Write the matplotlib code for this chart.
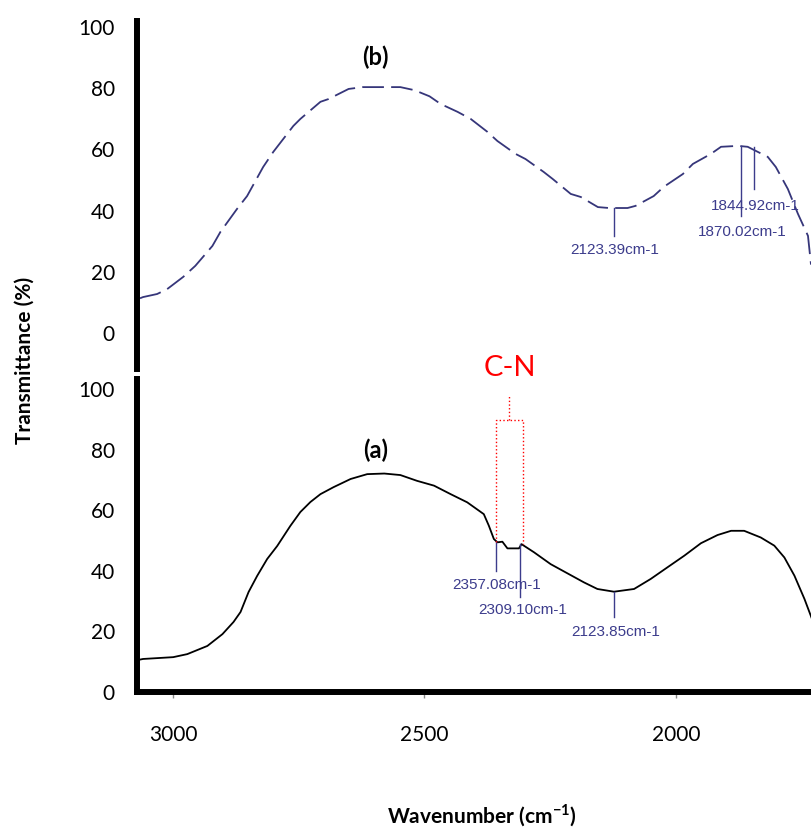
import numpy as np
import matplotlib.pyplot as plt

plt.rcParams['font.family'] = ['Lato', 'DejaVu Sans']
plt.rcParams['mathtext.fontset'] = 'custom'
plt.rcParams['mathtext.rm'] = 'Lato'
plt.rcParams['mathtext.bf'] = 'Lato:bold'

# spectrum (a): solid black
wn_a = [3066, 3060, 3000, 2972, 2932, 2902, 2880, 2866, 2850, 2833, 2813, 2793,
        2767, 2747, 2727, 2707, 2681, 2647, 2614, 2580, 2548, 2515, 2481, 2448,
        2415, 2382, 2372, 2362, 2355, 2345, 2335, 2312, 2307, 2282, 2249, 2216,
        2183, 2156, 2123, 2083, 2050, 2017, 1983, 1950, 1917, 1890, 1864, 1831,
        1804, 1784, 1764, 1744, 1729]
tr_a = [10.4, 10.6, 11.2, 12.2, 14.9, 18.8, 22.8, 26.1, 32.7, 38.0, 43.6, 47.9,
        54.5, 59.1, 62.4, 65.0, 67.3, 70.0, 71.6, 71.8, 71.3, 69.4, 67.8, 65.0,
        62.3, 58.4, 54.6, 50.2, 49.1, 49.3, 47.1, 47.1, 48.5, 45.8, 41.9, 38.9,
        35.9, 33.7, 32.8, 33.7, 37.0, 40.8, 44.7, 48.8, 51.5, 52.9, 52.9, 50.7,
        48.0, 44.1, 38.1, 30.4, 23.8]

# spectrum (b): dashed navy
wn_b = [3066, 3060, 3032, 3012, 2980, 2956, 2922, 2906, 2873, 2853, 2821, 2801,
        2761, 2747, 2707, 2691, 2651, 2623, 2548, 2520, 2490, 2468, 2434, 2408,
        2375, 2355, 2319, 2299, 2263, 2245, 2209, 2189, 2155, 2133, 2115, 2096,
        2080, 2044, 2024, 1986, 1966, 1930, 1910, 1876, 1857, 1817, 1801, 1777,
        1757, 1737, 1731]
tr_b = [11.0, 11.4, 12.4, 14.0, 18.0, 21.6, 28.1, 32.7, 40.2, 44.4, 53.9, 58.8,
        67.3, 69.6, 75.2, 76.1, 79.4, 80.0, 80.0, 79.0, 77.0, 74.5, 71.9, 69.6,
        65.4, 62.4, 58.2, 56.5, 52.3, 50.0, 45.1, 44.1, 40.8, 40.5, 40.5, 40.5,
        41.2, 44.4, 47.4, 51.6, 54.9, 58.2, 60.5, 60.8, 60.5, 57.2, 53.9, 46.7,
        38.6, 31.4, 22.0]

# peak labels: (wavenumber, line top, line bottom, label x, label y, text)
peaks_b = [(2123.39, 40.5, 31.4, 2122, 27.0, '2123.39cm-1'),
           (1870.02, 60.8, 37.9, 1868, 33.0, '1870.02cm-1'),
           (1844.92, 60.3, 46.7, 1841, 41.5, '1844.92cm-1')]
peaks_a = [(2357.08, 49.2, 39.6, 2357, 35.3, '2357.08cm-1'),
           (2309.10, 48.5, 31.0, 2305, 27.0, '2309.10cm-1'),
           (2123.85, 32.8, 24.4, 2120, 19.8, '2123.85cm-1')]

navy = '#36367a'
peak_col = '#3c3c8c'
peak_font = ['Liberation Sans', 'DejaVu Sans']

fig = plt.figure(figsize=(8.11, 8.28), dpi=100)
ax_b = fig.add_axes([137 / 811, 1 - 370 / 828, 1 - 137 / 811, (370 - 22) / 828])
ax_a = fig.add_axes([137 / 811, 1 - 693 / 828, 1 - 137 / 811, (693 - 380) / 828],
                    sharex=ax_b)

ax_b.plot(wn_b, tr_b, color=navy, lw=1.3, dashes=(12, 4))
ax_a.plot(wn_a, tr_a, color='black', lw=1.3)

for ax in (ax_a, ax_b):
    for s in ('top', 'right'):
        ax.spines[s].set_visible(False)
    ax.spines['left'].set_linewidth(4.3)
    ax.set_yticks([0, 20, 40, 60, 80, 100])
    ax.tick_params(axis='y', length=0, pad=16, labelsize=15)

ax_b.spines['bottom'].set_visible(False)
ax_b.tick_params(axis='x', length=0, labelbottom=False)
ax_a.spines['bottom'].set_linewidth(4.3)
ax_a.tick_params(axis='x', length=4, width=1, color='#888888', pad=19, labelsize=15)
ax_a.set_xticks([3000, 2500, 2000])
ax_a.set_xlim(3072, 1731)
ax_b.set_ylim(-12.1, 101.6)
ax_a.set_ylim(-0.3, 103)

for ax, peaks in ((ax_b, peaks_b), (ax_a, peaks_a)):
    for w, y0, y1, tx, ty, lab in peaks:
        ax.plot([w, w], [y0, y1], color=peak_col, lw=1)
        ax.text(tx, ty, lab, color=peak_col, fontsize=11, family=peak_font,
                ha='center', va='center')

ax_b.text(2598, 90.2, '(b)', fontsize=17, fontweight='bold', ha='center', va='center')
ax_a.text(2598, 79.9, '(a)', fontsize=17, fontweight='bold', ha='center', va='center')

# C-N box
ax_a.plot([2357, 2357, 2305, 2305], [49.2, 89.5, 89.5, 48.5], color='red', lw=1,
          ls=':', clip_on=False)
ax_a.plot([2331, 2331], [89.5, 97.5], color='red', lw=1, ls=':', clip_on=False)
ax_a.text(2331, 107, 'C-N', color='red', fontsize=21, ha='center', va='center',
          clip_on=False)

fig.text(0.031, 0.565, 'Transmittance (%)', rotation=90, fontsize=15,
         fontweight='bold', ha='center', va='center')
fig.text(0.594, 0.015, r'Wavenumber (cm$^{\mathbf{-1}}$)', fontsize=15,
         fontweight='bold', ha='center', va='center')

fig.savefig('out.png', dpi=100)
